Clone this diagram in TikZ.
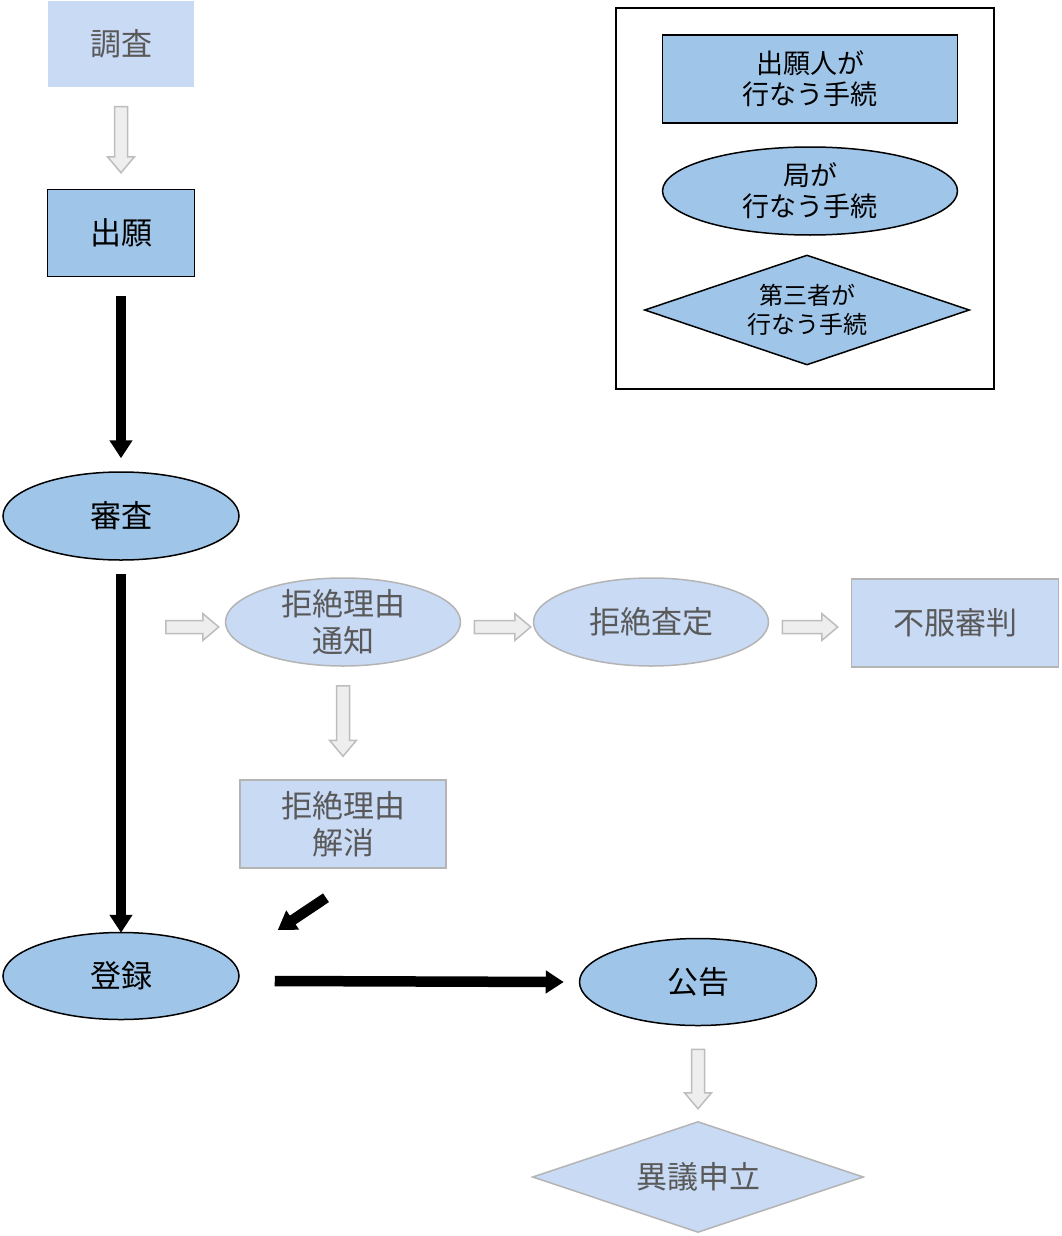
\documentclass[tikz,border=0pt]{standalone}
\usepackage{fontspec}
\setmainfont{Noto Sans CJK JP}
\usetikzlibrary{shapes,positioning,calc,arrows.meta}
\definecolor{lightfill}{HTML}{C9DAF5}
\definecolor{darkfill}{HTML}{9FC5E8}
\definecolor{lightline}{HTML}{B4B4B4}
\definecolor{lighttext}{HTML}{595959}
\definecolor{arrowfill}{HTML}{EEEEEE}
\definecolor{arrowline}{HTML}{BDBDBD}
\tikzset{
  main/.style={font=\fontsize{31}{37}\selectfont, align=center, inner sep=0pt},
  light/.style={main, fill=lightfill, draw=lightline, line width=1.5pt, text=lighttext},
  dark/.style={main, fill=darkfill, draw=black, line width=1.5pt},
  oval/.style={ellipse, inner ysep=-8pt, minimum width=236pt, minimum height=88pt},
  box/.style={rectangle, minimum height=88pt},
  rhombus/.style={diamond, aspect=3},
  legend/.style={dark, font=\fontsize{27}{31}\selectfont},
  bigarrow/.style={line width=10.5pt, -{Triangle[width=22pt,length=18pt]}},
  hollow/.style={draw=arrowline, fill=arrowfill, line width=1.5pt, line join=miter,
    to path={let \p1=(\tikztostart), \p2=(\tikztotarget),
      \n1={atan2(\y2-\y1,\x2-\x1)}, \n2={veclen(\x2-\x1,\y2-\y1)} in
      ($(\tikztostart)+(\n1+90:6.5)$) -- ++(\n1:{\n2-16}) -- ++(\n1+90:7) -- (\tikztotarget)
      -- ($(\tikztostart)+(\n1:{\n2-16})+(\n1-90:13.5)$) -- ++(\n1+90:7)
      -- ($(\tikztostart)+(\n1-90:6.5)$) -- cycle}}
}

\begin{document}
\begin{tikzpicture}[x=1pt,y=1pt]
  \useasboundingbox (0,0) rectangle (1061,-1236);
  \node[light, box, draw=none, minimum width=146pt, minimum height=86pt] (chosa) at (121,-44) {調査};
  \node[dark, box, minimum width=147pt, minimum height=87pt] (shutsugan) at (121,-233) {出願};
  \node[dark, oval] (shinsa) at (121,-516) {審査};
  \node[light, oval, minimum width=235pt] (tsuchi) at (343,-622) {拒絶理由\\通知};
  \node[light, oval, minimum width=235pt] (satei) at (651,-622) {拒絶査定};
  \node[light, box, minimum width=207pt] (shinpan) at (955,-623) {不服審判};
  \node[light, box, minimum width=206pt] (kaisho) at (343,-824) {拒絶理由\\解消};
  \node[dark, oval, minimum height=87pt] (toroku) at (121,-976) {登録};
  \node[dark, oval, minimum width=237pt, minimum height=87pt] (kokoku) at (698,-982) {公告};
  \node[light, rhombus, minimum width=331pt, minimum height=111pt] (igi) at (698,-1177) {異議申立};

  \draw[line width=1.5pt] (616,-8) rectangle (994,-389);
  \node[legend, box, minimum width=295pt] (lgapplicant) at (810,-79) {出願人が\\行なう手続};
  \node[legend, oval, minimum width=295pt] (lgoffice) at (810,-191) {局が\\行なう手続};
  \node[legend, rhombus, minimum width=325pt, minimum height=110pt,
    font=\fontsize{24}{29}\selectfont] (lgthird) at (807,-310) {第三者が\\行なう手続};

  \draw[hollow] ([yshift=-19]chosa.south) to ([yshift=16]shutsugan.north);
  \draw[bigarrow] ([yshift=-19]shutsugan.south) -- ([yshift=13]shinsa.north);
  \draw[bigarrow] ([yshift=-13]shinsa.south) -- ([yshift=-1]toroku.north);
  \draw[hollow] ([xshift=-59,yshift=-5]tsuchi.west) to ([xshift=-6,yshift=-5]tsuchi.west);
  \draw[hollow] ([xshift=13,yshift=-5]tsuchi.east) to ([xshift=-2,yshift=-5]satei.west);
  \draw[hollow] ([xshift=13,yshift=-5]satei.east) to ([xshift=-13,yshift=-4]shinpan.west);
  \draw[hollow] ([yshift=-19]tsuchi.south) to ([yshift=23]kaisho.north);
  \draw[bigarrow] ([xshift=-17,yshift=-29]kaisho.south) -- ([xshift=38,yshift=46]toroku.east);
  \draw[bigarrow] ([xshift=35,yshift=-5]toroku.east) -- ([xshift=-15]kokoku.west);
  \draw[hollow] ([yshift=-23]kokoku.south) to ([yshift=12]igi.north);
\end{tikzpicture}
\end{document}
